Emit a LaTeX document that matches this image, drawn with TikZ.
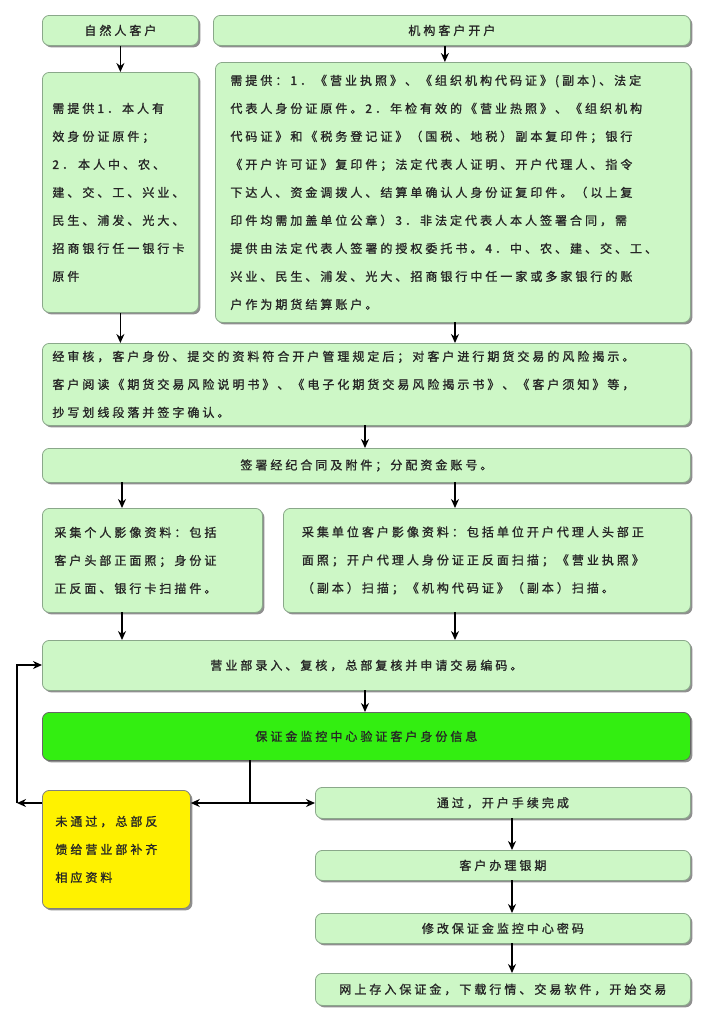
\documentclass[tikz,border=0pt]{standalone}
\usepackage{fontspec}
\newfontfamily\cjk[LetterSpace=25,FakeBold=1.2]{Noto Sans CJK SC}
\usetikzlibrary{shadows,arrows.meta}
\definecolor{lg}{HTML}{CDF7C6}
\definecolor{bd}{HTML}{8AA88A}
\definecolor{bg}{HTML}{33EE11}
\tikzset{
 box/.style={draw=bd,line width=0.8pt,fill=lg,rounded corners=7pt,anchor=north west,
   drop shadow={shadow xshift=2pt,shadow yshift=-2pt,fill=black!55,opacity=0.8},
   font=\cjk\fontsize{12}{28}\selectfont,inner sep=0pt,align=center,text=black!85},
 lbox/.style={box,align=left},
 arr/.style={-{Stealth[length=9pt,width=8pt]},line width=1.5pt},
 ln/.style={line width=1.5pt}
}
\begin{document}
\begin{tikzpicture}[x=1pt,y=-1pt]
\useasboundingbox[fill=white] (0,0) rectangle (715,1034);
\node[box,minimum width=156,minimum height=30] (A) at (42,15) {自然人客户};
\node[box,minimum width=477,minimum height=30] (B) at (213,15) {机构客户开户};
\node[lbox,minimum width=156,minimum height=240,text width=136] (C) at (42,72) {需提供1．本人有\\效身份证原件；\\2． 本人中、农、\\建、交、工、兴业、\\民生、浦发、光大、\\招商银行任一银行卡\\原件};
\node[lbox,minimum width=475,minimum height=260,text width=445] (D) at (215,62) {需提供：1．《营业执照》、《组织机构代码证》(副本)、法定\\代表人身份证原件。2．年检有效的《营业热照》、《组织机构\\代码证》和《税务登记证》（国税、地税）副本复印件；银行\\《开户许可证》复印件；法定代表人证明、开户代理人、指令\\下达人、资金调拨人、结算单确认人身份证复印件。（以上复\\印件均需加盖单位公章）3．非法定代表人本人签署合同，需\\提供由法定代表人签署的授权委托书。4．中、农、建、交、工、\\兴业、民生、浦发、光大、招商银行中任一家或多家银行的账\\户作为期货结算账户。};
\node[lbox,minimum width=648,minimum height=82,text width=628] (E) at (42,343) {经审核，客户身份、提交的资料符合开户管理规定后；对客户进行期货交易的风险揭示。\\客户阅读《期货交易风险说明书》、《电子化期货交易风险揭示书》、《客户须知》等，\\抄写划线段落并签字确认。};
\node[box,minimum width=648,minimum height=34] (F) at (42,448) {签署经纪合同及附件；分配资金账号。};
\node[lbox,minimum width=220,minimum height=104,text width=196] (G) at (42,508) {采集个人影像资料：包括\\客户头部正面照；身份证\\正反面、银行卡扫描件。};
\node[lbox,minimum width=407,minimum height=104,text width=370] (H) at (283,508) {采集单位客户影像资料：包括单位开户代理人头部正\\面照；开户代理人身份证正反面扫描；《营业执照》\\（副本）扫描；《机构代码证》（副本）扫描。};
\node[box,minimum width=648,minimum height=50] (I) at (42,640) {营业部录入、复核，总部复核并申请交易编码。};
\node[box,fill=bg,draw=black!60,minimum width=648,minimum height=48] (J) at (42,712) {保证金监控中心验证客户身份信息};
\node[lbox,fill=yellow,draw=black!50,minimum width=148,minimum height=118,text width=122] (K) at (42,790) {未通过，总部反\\馈给营业部补齐\\相应资料};
\node[box,minimum width=375,minimum height=31] (L) at (315,787) {通过，开户手续完成};
\node[box,minimum width=375,minimum height=30] (M) at (315,850) {客户办理银期};
\node[box,minimum width=375,minimum height=30] (N) at (315,913) {修改保证金监控中心密码};
\node[box,minimum width=375,minimum height=32] (O) at (315,973) {网上存入保证金，下载行情、交易软件，开始交易};
\draw[arr] (A.south) -- (A.south |- C.north);
\draw[arr] ([xshift=-7pt]B.south) -- ([xshift=-7pt]B.south |- D.north);
\draw[arr] (C.south) -- (C.south |- E.north);
\draw[arr] (455,322) -- (455,343);
\draw[arr] (365,425) -- (365,448);
\draw[arr] (122,482) -- (122,508);
\draw[arr] (455,482) -- (455,508);
\draw[arr] (122,612) -- (122,640);
\draw[arr] (455,612) -- (455,640);
\draw[arr] (365,690) -- (365,712);
\coordinate (jb) at (250,760);
\coordinate (jm) at (250,803);
\draw[ln] (jb) -- (jm);
\draw[arr] (jm) -- (jm -| K.east);
\draw[arr] (jm) -- (jm -| L.west);
\coordinate (fl) at (17,803);
\coordinate (ft) at (17,665);
\draw[arr] (K.west |- jm) -- (fl);
\draw[arr] (fl) -- (ft) -- (ft -| I.west);
\draw[arr] (512,818) -- (512,850);
\draw[arr] (512,880) -- (512,913);
\draw[arr] (512,943) -- (512,973);
\end{tikzpicture}
\end{document}
